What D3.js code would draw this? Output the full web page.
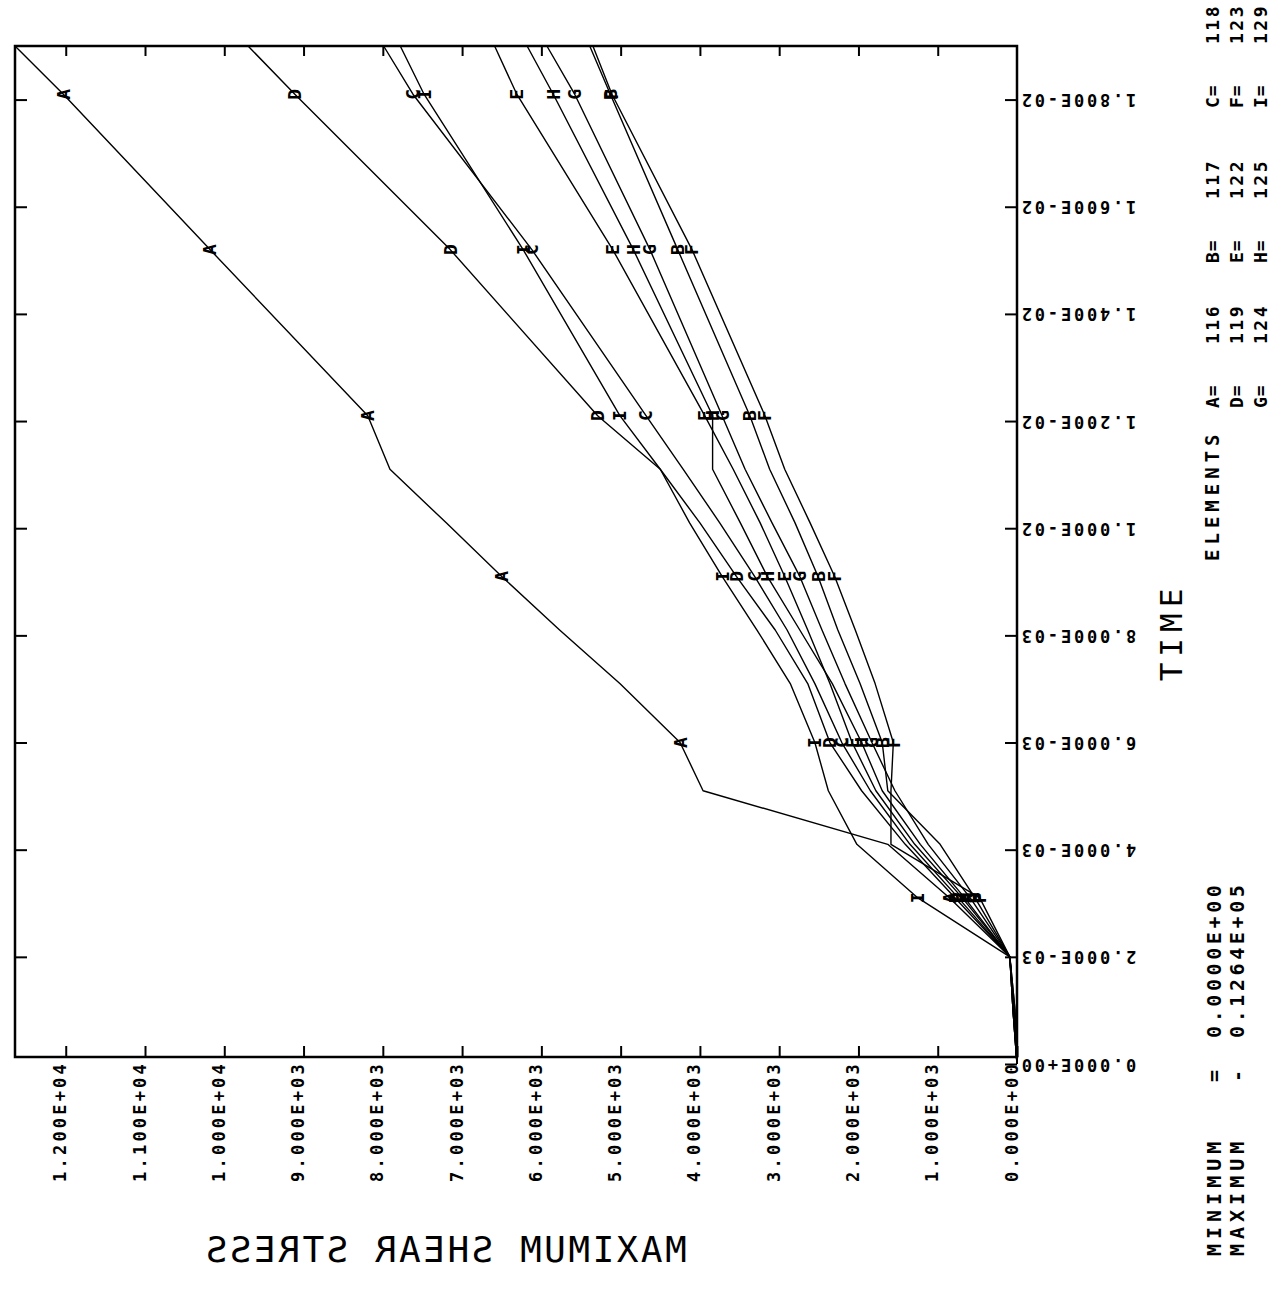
<!DOCTYPE html>
<html>
<head>
<meta charset="utf-8">
<script src="https://cdn.jsdelivr.net/npm/d3@7"></script>
<style>
  body { margin: 0; background: #fff; }
  svg { display: block; background: #fff; }
  text { font-family: "DejaVu Sans Mono", monospace; fill: #000; }
</style>
</head>
<body>
<svg id="chart" width="1284" height="1289"></svg>
<script>
// time steps (s) and the steps that carry a letter marker
var times = [0, 0.001, 0.002, 0.0031, 0.0041, 0.0051, 0.006, 0.0071, 0.0081, 0.0091, 0.0101, 0.0111, 0.0121, 0.0152, 0.0181, 0.019];
var markerIdx = [3, 6, 9, 12, 13, 14];

// maximum shear stress per element
var stressA = [0, 25, 90, 850, 1630, 3960, 4250, 5010, 5770, 6500, 7200, 7910, 8190, 10180, 12030, 12640];
var stressB = [0, 40, 90, 530, 970, 1630, 1700, 1980, 2260, 2510, 2800, 3120, 3370, 4280, 5130, 5390];
var stressC = [0, 50, 90, 740, 1350, 1850, 2210, 2550, 2900, 3310, 3750, 4210, 4680, 6120, 7620, 7990];
var stressD = [0, 50, 90, 780, 1410, 1960, 2360, 2640, 3050, 3540, 4000, 4500, 5290, 7150, 9110, 9700];
var stressE = [0, 50, 90, 690, 1290, 1780, 2080, 2360, 2640, 2930, 3240, 3580, 3940, 5100, 6310, 6590];
var stressF = [0, 25, 90, 470, 1590, 1590, 1560, 1790, 2040, 2300, 2610, 2930, 3180, 4100, 5110, 5350];
var stressG = [0, 50, 90, 590, 1120, 1540, 1830, 2170, 2460, 2740, 3090, 3430, 3720, 4630, 5580, 5930];
var stressH = [0, 40, 90, 660, 1220, 1700, 1960, 2330, 2740, 3150, 3490, 3840, 3840, 4840, 5850, 6180];
var stressI = [0, 40, 90, 1250, 2020, 2380, 2550, 2860, 3280, 3720, 4130, 4500, 5010, 6230, 7480, 7780];

var seriesNames = ["A", "B", "C", "D", "E", "F", "G", "H", "I"];
var elementIds = [116, 117, 118, 119, 122, 123, 124, 125, 129];

var timeTicks = [0, 0.002, 0.004, 0.006, 0.008, 0.010, 0.012, 0.014, 0.016, 0.018];
var stressTicks = [0, 1000, 2000, 3000, 4000, 5000, 6000, 7000, 8000, 9000, 10000, 11000, 12000];

(function() {
  var series = [stressA, stressB, stressC, stressD, stressE, stressF, stressG, stressH, stressI]
    .map(function(v, i) { return {name: seriesNames[i], id: elementIds[i], values: v}; });

  var allVals = d3.merge(series.map(function(s) { return s.values; }));
  var vMin = d3.min(allVals), vMax = d3.max(allVals);

  // the plot is turned on its side: time runs up, stress runs left
  var svg = d3.select("#chart");
  var fLeft = 15, fRight = 1017, fTop = 46, fBottom = 1057;

  var y = d3.scaleLinear().domain([0, 0.019]).range([1064, fTop]);
  var x = d3.scaleLinear().domain([0, vMax]).range([fRight, fLeft]);

  // 1.800E-02 style labels
  function sci(v) {
    var p = v.toExponential(3).split("e");
    var e = +p[1];
    return p[0] + "E" + (e < 0 ? "-" : "+") + (Math.abs(e) < 10 ? "0" : "") + Math.abs(e);
  }
  // 0.1264E+05 style
  function fort(v) {
    if (v === 0) return "0.0000E+00";
    var e = Math.floor(Math.log10(Math.abs(v)) + 1e-9) + 1;
    var m = (v / Math.pow(10, e)).toFixed(4);
    return m + "E" + (e < 0 ? "-" : "+") + (Math.abs(e) < 10 ? "0" : "") + Math.abs(e);
  }

  svg.append("rect")
    .attr("x", fLeft).attr("y", fTop)
    .attr("width", fRight - fLeft).attr("height", fBottom - fTop)
    .attr("fill", "none").attr("stroke", "#000").attr("stroke-width", 2.5);

  // time axis on the right
  var tAxis = svg.append("g")
    .attr("transform", "translate(" + fRight + ",0)")
    .call(d3.axisRight(y).tickValues(timeTicks).tickSize(-12).tickFormat(sci));
  tAxis.select(".domain").remove();
  tAxis.selectAll("line").attr("stroke-width", 2);
  tAxis.selectAll("text")
    .attr("x", 0).attr("dy", "0.35em")
    .attr("text-anchor", "end")
    .attr("transform", "translate(2,0) rotate(180)")
    .style("font-family", "DejaVu Sans Mono, monospace")
    .style("font-weight", "bold")
    .style("font-size", "17px").style("letter-spacing", "2.8px");

  // matching ticks on the left frame
  var tAxis2 = svg.append("g")
    .attr("transform", "translate(" + fLeft + ",0)")
    .call(d3.axisLeft(y).tickValues(timeTicks.slice(1)).tickSize(-12).tickFormat(""));
  tAxis2.select(".domain").remove();
  tAxis2.selectAll("line").attr("stroke-width", 2);

  // stress axis at the bottom
  var sAxis = svg.append("g")
    .attr("transform", "translate(0," + fBottom + ")")
    .call(d3.axisBottom(x).tickValues(stressTicks).tickSize(-11).tickFormat(sci));
  sAxis.select(".domain").remove();
  sAxis.selectAll("line").attr("stroke-width", 2);
  sAxis.selectAll("text")
    .attr("x", 0).attr("y", 0).attr("dy", 0)
    .attr("text-anchor", "end")
    .attr("transform", "translate(0,4) rotate(-90)")
    .style("font-family", "DejaVu Sans Mono, monospace")
    .style("font-weight", "bold")
    .style("font-size", "17px").style("letter-spacing", "3.2px");

  var sAxis2 = svg.append("g")
    .attr("transform", "translate(0," + fTop + ")")
    .call(d3.axisTop(x).tickValues(stressTicks.slice(1)).tickSize(-10).tickFormat(""));
  sAxis2.select(".domain").remove();
  sAxis2.selectAll("line").attr("stroke-width", 2);

  // curves
  var line = d3.line()
    .x(function(d) { return x(d); })
    .y(function(d, i) { return y(times[i]); });

  svg.append("g").selectAll("path")
    .data(series)
    .enter().append("path")
      .attr("d", function(s) { return line(s.values); })
      .attr("fill", "none")
      .attr("stroke", "#000")
      .attr("stroke-width", 1.4)
      .attr("stroke-linejoin", "round");

  // letter markers
  var marks = [];
  series.forEach(function(s) {
    markerIdx.forEach(function(k) { marks.push({name: s.name, v: s.values[k], t: times[k]}); });
  });
  svg.append("g").selectAll("text")
    .data(marks)
    .enter().append("text")
      .attr("transform", function(d) { return "translate(" + x(d.v) + "," + y(d.t) + ") rotate(-90)"; })
      .attr("text-anchor", "middle")
      .attr("dy", "0.36em")
      .style("font-size", "18px").style("font-weight", "bold")
      .text(function(d) { return d.name; });

  // axis titles
  svg.append("text")
    .attr("transform", "translate(1182,632) rotate(-90)")
    .attr("text-anchor", "middle")
    .style("font-size", "31px").style("letter-spacing", "6px")
    .text("TIME");

  svg.append("text")
    .attr("transform", "translate(445,1262) scale(-1,1)")
    .attr("text-anchor", "middle")
    .style("font-size", "36px").style("letter-spacing", "2.5px")
    .text("MAXIMUM SHEAR STRESS");

  // element legend, three rows of three
  var rowX = [1219, 1243, 1267];
  var colY = [408, 263, 108];
  var legend = svg.append("g").style("font-weight", "bold");
  legend.append("text")
    .attr("transform", "translate(" + rowX[0] + ",561) rotate(-90)")
    .style("font-size", "19px").style("letter-spacing", "5px")
    .text("ELEMENTS");
  series.forEach(function(s, i) {
    var r = Math.floor(i / 3), c = i % 3;
    legend.append("text")
      .attr("transform", "translate(" + rowX[r] + "," + colY[c] + ") rotate(-90)")
      .style("font-size", "18px").style("letter-spacing", "1px")
      .text(s.name + "=");
    legend.append("text")
      .attr("transform", "translate(" + rowX[r] + "," + (colY[c] - 64) + ") rotate(-90)")
      .style("font-size", "18px").style("letter-spacing", "2.5px")
      .text(s.id);
  });

  // min / max block
  var mm = [["MINIMUM", vMin], ["MAXIMUM", vMax]];
  mm.forEach(function(d, i) {
    var bx = [1221, 1244][i];
    var g = svg.append("g").style("font-weight", "bold");
    g.append("text")
      .attr("transform", "translate(" + bx + ",1256) rotate(-90)")
      .style("font-size", "20px").style("letter-spacing", "5px")
      .text(d[0]);
    g.append("text")
      .attr("transform", "translate(" + bx + ",1082) rotate(-90)")
      .style("font-size", "20px")
      .text(i === 0 ? "=" : "-");
    g.append("text")
      .attr("transform", "translate(" + bx + ",1038) rotate(-90)")
      .style("font-size", "20px").style("letter-spacing", "3.6px")
      .text(fort(d[1]));
  });
})();
</script>
</body>
</html>
